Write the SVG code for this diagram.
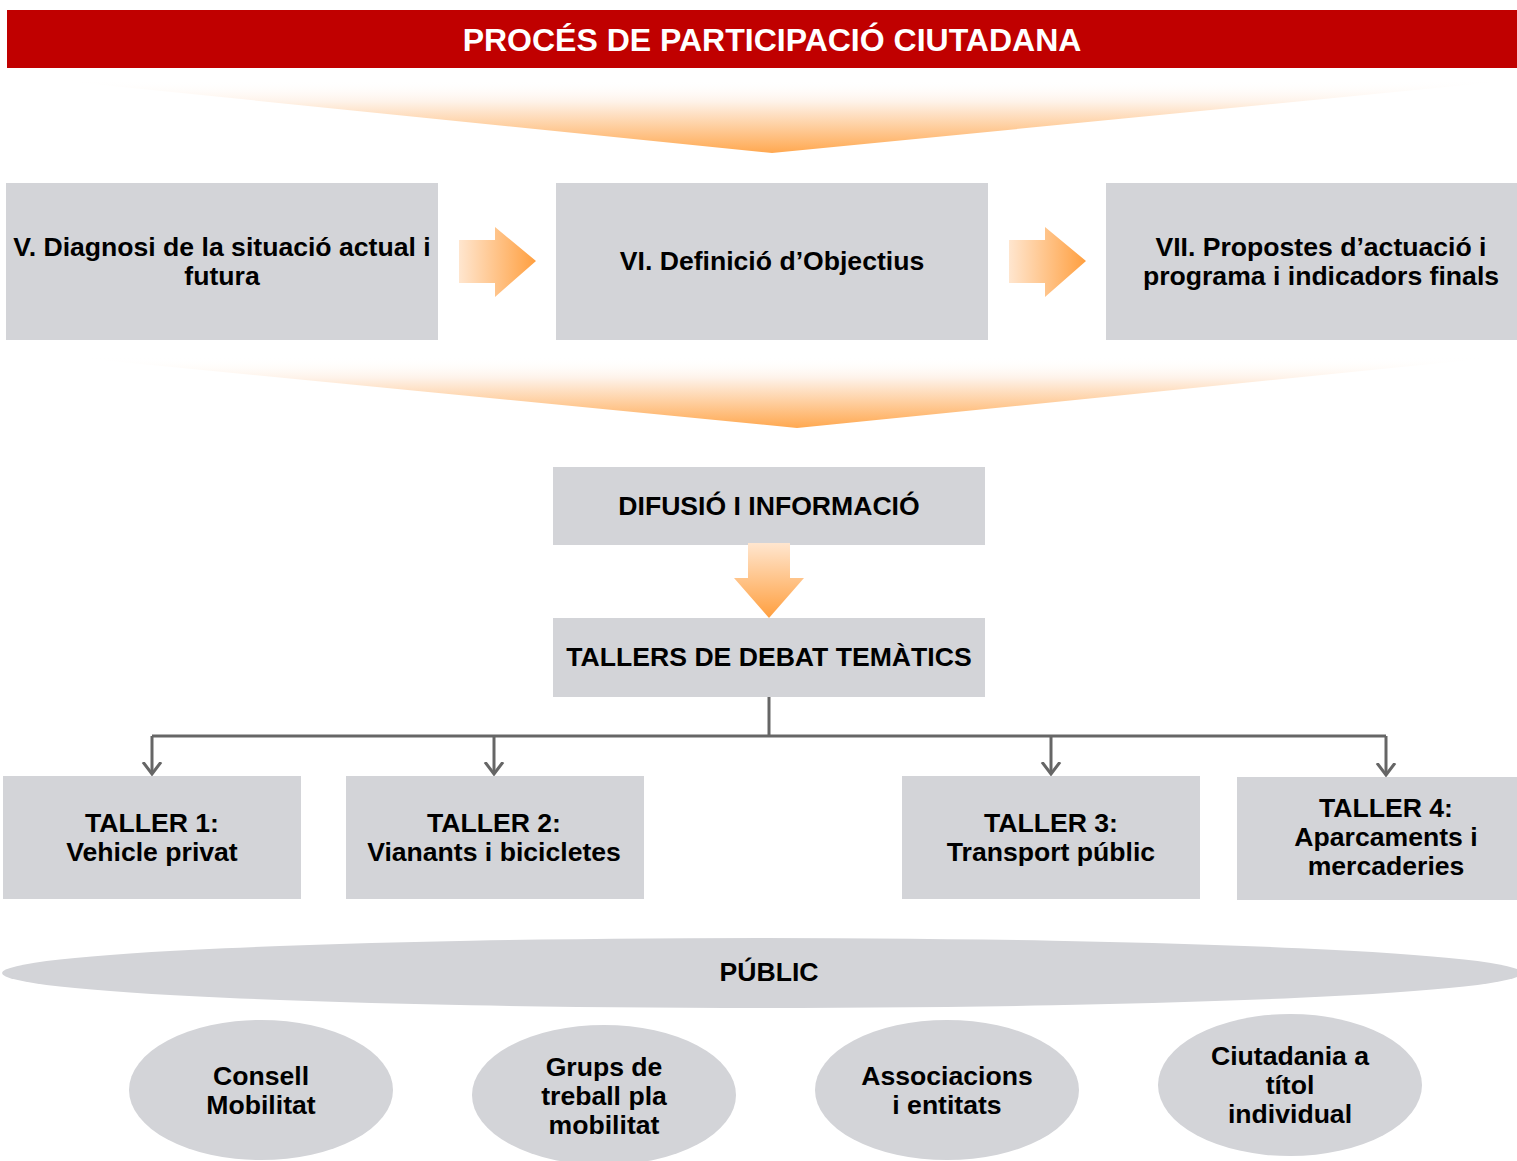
<svg xmlns="http://www.w3.org/2000/svg" width="1517" height="1161" viewBox="0 0 1517 1161">
<defs>
<linearGradient id="gv" x1="0" y1="0" x2="0" y2="1">
<stop offset="0" stop-color="#FFFFFF" stop-opacity="0"/>
<stop offset="0.3" stop-color="#FEF2E8"/>
<stop offset="1" stop-color="#FFA850"/>
</linearGradient>
<linearGradient id="gh" x1="0" y1="0" x2="1" y2="0">
<stop offset="0" stop-color="#FFE6CF"/>
<stop offset="1" stop-color="#FF9F3F"/>
</linearGradient>
<linearGradient id="gd" x1="0" y1="0" x2="0" y2="1">
<stop offset="0" stop-color="#FFE6CF"/>
<stop offset="1" stop-color="#FF9F3F"/>
</linearGradient>
<marker id="ah" markerWidth="24" markerHeight="24" viewBox="-12 -12 24 24" refX="0" refY="0" orient="auto" markerUnits="userSpaceOnUse">
<path d="M-12,-9 L0,0 L-12,9" fill="none" stroke="#666666" stroke-width="3"/>
</marker>
</defs>
<style>
.box{fill:#D3D4D8;}
.t{font-family:"Liberation Sans",Arial,sans-serif;font-weight:bold;font-size:26.6px;fill:#000;text-anchor:middle;}
.h{font-family:"Liberation Sans",Arial,sans-serif;font-weight:bold;font-size:32px;fill:#fff;text-anchor:middle;}
.c{fill:none;stroke:#666666;stroke-width:3;}
</style>
<g id="header">
<rect x="7" y="10" width="1510" height="58" fill="#C00000"/>
<text class="h" x="772" y="51">PROCÉS DE PARTICIPACIÓ CIUTADANA</text>
</g>
<g id="chevron1"><polygon points="53,80 1517,80 772,153" fill="url(#gv)"/></g>
<g id="box1"><rect class="box" x="6" y="183" width="432" height="157"/>
<text class="t" x="222" y="256">V. Diagnosi de la situació actual i</text>
<text class="t" x="222" y="285">futura</text></g>
<g id="box2"><rect class="box" x="556" y="183" width="432" height="157"/>
<text class="t" x="772" y="270">VI. Definició d’Objectius</text></g>
<g id="box3"><rect class="box" x="1106" y="183" width="411" height="157"/>
<text class="t" x="1321" y="256">VII. Propostes d’actuació i</text>
<text class="t" x="1321" y="285">programa i indicadors finals</text></g>
<g id="arrow1"><polygon points="459,240 495,240 495,227 536,261 495,297 495,283 459,283" fill="url(#gh)"/></g>
<g id="arrow2"><polygon points="1009,240 1045,240 1045,227 1086,261 1045,297 1045,283 1009,283" fill="url(#gh)"/></g>
<g id="chevron2"><polygon points="70,357 1500,357 797,428" fill="url(#gv)"/></g>
<g id="difusio"><rect class="box" x="553" y="467" width="432" height="78"/>
<text class="t" x="769" y="515">DIFUSIÓ I INFORMACIÓ</text></g>
<g id="arrow3"><polygon points="748,543 790,543 790,578 804,578 769,618 734,578 748,578" fill="url(#gd)"/></g>
<g id="tallers"><rect class="box" x="553" y="618" width="432" height="79"/>
<text class="t" x="769" y="666">TALLERS DE DEBAT TEMÀTICS</text></g>
<g id="connectors">
<path class="c" d="M769,697 V736"/>
<path class="c" d="M152,736 H1386"/>
<path class="c" d="M152,736 V774" marker-end="url(#ah)"/>
<path class="c" d="M494,736 V774" marker-end="url(#ah)"/>
<path class="c" d="M1051,736 V774" marker-end="url(#ah)"/>
<path class="c" d="M1386,736 V775" marker-end="url(#ah)"/>
</g>
<g id="taller1"><rect class="box" x="3" y="776" width="298" height="123"/>
<text class="t" x="152" y="832">TALLER 1:</text>
<text class="t" x="152" y="861">Vehicle privat</text></g>
<g id="taller2"><rect class="box" x="346" y="776" width="298" height="123"/>
<text class="t" x="494" y="832">TALLER 2:</text>
<text class="t" x="494" y="861">Vianants i bicicletes</text></g>
<g id="taller3"><rect class="box" x="902" y="776" width="298" height="123"/>
<text class="t" x="1051" y="832">TALLER 3:</text>
<text class="t" x="1051" y="861">Transport públic</text></g>
<g id="taller4"><rect class="box" x="1237" y="777" width="280" height="123"/>
<text class="t" x="1386" y="817">TALLER 4:</text>
<text class="t" x="1386" y="846">Aparcaments i</text>
<text class="t" x="1386" y="875">mercaderies</text></g>
<g id="public"><ellipse class="box" cx="762" cy="973" rx="760" ry="35"/>
<text class="t" x="769" y="981">PÚBLIC</text></g>
<g id="consell"><ellipse class="box" cx="261" cy="1090" rx="132" ry="70"/>
<text class="t" x="261" y="1085">Consell</text>
<text class="t" x="261" y="1114">Mobilitat</text></g>
<g id="grups"><ellipse class="box" cx="604" cy="1095" rx="132" ry="70"/>
<text class="t" x="604" y="1076">Grups de</text>
<text class="t" x="604" y="1105">treball pla</text>
<text class="t" x="604" y="1134">mobilitat</text></g>
<g id="associacions"><ellipse class="box" cx="947" cy="1090" rx="132" ry="70"/>
<text class="t" x="947" y="1085">Associacions</text>
<text class="t" x="947" y="1114">i entitats</text></g>
<g id="ciutadania"><ellipse class="box" cx="1290" cy="1085" rx="132" ry="71"/>
<text class="t" x="1290" y="1065">Ciutadania a</text>
<text class="t" x="1290" y="1094">títol</text>
<text class="t" x="1290" y="1123">individual</text></g>
</svg>
